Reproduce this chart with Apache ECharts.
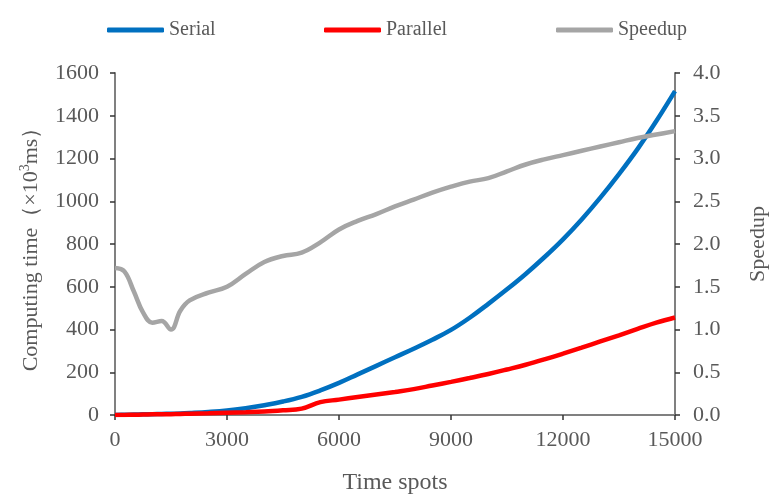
<!DOCTYPE html>
<html>
<head>
<meta charset="utf-8">
<script src="https://cdn.jsdelivr.net/npm/echarts@6/dist/echarts.min.js"></script>
<style>
  html, body { margin: 0; padding: 0; background: #ffffff; }
  #chart { width: 775px; height: 496px; }
</style>
</head>
<body>
<div id="chart"></div>
<script>
// Number of time spots (x values shared by all series)
const timeSpots = [0, 250, 500, 750, 1000, 1250, 1500, 1750, 2000, 2500, 3000, 3500, 4000, 4500,
  5000, 5500, 6000, 6500, 7000, 7500, 8000, 8500, 9000, 9500, 10000, 10500, 11000, 11500,
  12000, 12500, 13000, 13500, 14000, 14500, 15000];

// Computing time of the serial version (x10^3 ms)
const serialTime = [0, 1, 2, 3, 4, 5, 6, 7, 9, 14, 21, 32, 46, 63,
  85, 115, 150, 190, 230, 270, 310, 352, 398, 455, 520, 588, 660, 738,
  822, 915, 1017, 1127, 1245, 1375, 1515];

// Computing time of the parallel version (x10^3 ms)
const parallelTime = [0, 0.5, 1, 2, 3, 3.5, 4, 5, 6, 8, 11, 13, 16, 22,
  30, 60, 72, 84, 96, 108, 121, 138, 155, 173, 192, 213, 235, 260,
  287, 315, 344, 373, 403, 432, 456];

// Speedup of parallel over serial
const speedup = [1.72, 1.68, 1.45, 1.20, 1.08, 1.10, 1.00, 1.22, 1.34, 1.43, 1.50, 1.65, 1.79, 1.86,
  1.90, 2.02, 2.17, 2.27, 2.35, 2.44, 2.52, 2.60, 2.67, 2.73, 2.77, 2.85, 2.93, 2.99,
  3.04, 3.09, 3.14, 3.19, 3.24, 3.28, 3.32];

const xTicks = { min: 0, max: 15000, interval: 3000 };
const leftTicks = { min: 0, max: 1600, interval: 200 };
const rightTicks = { min: 0, max: 4, interval: 0.5 };

const pairs = vals => timeSpots.map((t, i) => [t, vals[i]]);

const FONT = '"Liberation Serif", "Times New Roman", serif';
const TEXT = '#595959';
const AXIS = '#808080';
const TICK = '#333333';

const chart = echarts.init(document.getElementById('chart'));

const legendBase = {
  top: 15,
  icon: 'roundRect',
  itemWidth: 57,
  itemHeight: 5,
  itemGap: 5,
  textStyle: { fontFamily: FONT, fontSize: 20, color: TEXT }
};

chart.setOption({
  animation: false,
  textStyle: { fontFamily: FONT },
  legend: [
    Object.assign({}, legendBase, { left: 102, data: ['Serial'] }),
    Object.assign({}, legendBase, { left: 319, data: ['Parallel'] }),
    Object.assign({}, legendBase, { left: 551, data: ['Speedup'] })
  ],
  grid: { left: 115, right: 100, top: 73, bottom: 81, outerBoundsMode: 'none', containLabel: false },
  xAxis: {
    type: 'value',
    min: xTicks.min, max: xTicks.max, interval: xTicks.interval,
    name: 'Time spots',
    nameLocation: 'middle',
    nameGap: 56,
    nameTextStyle: { fontFamily: FONT, fontSize: 24, color: TEXT },
    axisLine: { show: true, lineStyle: { color: AXIS, width: 2 } },
    axisTick: { show: true, length: 5, lineStyle: { color: TICK, width: 1.5 } },
    axisLabel: { fontFamily: FONT, fontSize: 22, color: TEXT, margin: 14, formatter: v => String(v) },
    splitLine: { show: false }
  },
  yAxis: [
    {
      type: 'value',
      min: leftTicks.min, max: leftTicks.max, interval: leftTicks.interval,
      name: 'Computing time（×10{sup|3}ms）',
      nameLocation: 'middle',
      nameGap: 71,
      nameTextStyle: {
        fontFamily: FONT, fontSize: 22, color: TEXT, lineHeight: 26,
        rich: {
          sup: { fontFamily: FONT, fontSize: 14, color: TEXT, verticalAlign: 'top', lineHeight: 26 }
        }
      },
      axisLine: { show: true, lineStyle: { color: AXIS, width: 2 } },
      axisTick: { show: true, length: 5, lineStyle: { color: TICK, width: 1.5 } },
      axisLabel: { fontFamily: FONT, fontSize: 22, color: TEXT, margin: 16, formatter: v => String(v) },
      splitLine: { show: false }
    },
    {
      type: 'value',
      position: 'right',
      min: rightTicks.min, max: rightTicks.max, interval: rightTicks.interval,
      name: 'Speedup',
      nameLocation: 'middle',
      nameGap: 72,
      nameTextStyle: { fontFamily: FONT, fontSize: 22, color: TEXT },
      axisLine: { show: true, lineStyle: { color: AXIS, width: 2 } },
      axisTick: { show: true, length: 5, lineStyle: { color: TICK, width: 1.5 } },
      axisLabel: {
        fontFamily: FONT, fontSize: 22, color: TEXT, margin: 18,
        formatter: v => v.toFixed(1)
      },
      splitLine: { show: false }
    }
  ],
  series: [
    {
      name: 'Serial', type: 'line', yAxisIndex: 0,
      data: pairs(serialTime), smooth: 0.4, showSymbol: false, symbol: 'none',
      lineStyle: { color: '#0070C0', width: 4.5 }, itemStyle: { color: '#0070C0' }
    },
    {
      name: 'Parallel', type: 'line', yAxisIndex: 0,
      data: pairs(parallelTime), smooth: 0.4, showSymbol: false, symbol: 'none',
      lineStyle: { color: '#FF0000', width: 4.5 }, itemStyle: { color: '#FF0000' }
    },
    {
      name: 'Speedup', type: 'line', yAxisIndex: 1,
      data: pairs(speedup), smooth: 0.4, showSymbol: false, symbol: 'none',
      lineStyle: { color: '#A5A5A5', width: 4.5 }, itemStyle: { color: '#A5A5A5' }
    }
  ]
});
</script>
</body>
</html>
